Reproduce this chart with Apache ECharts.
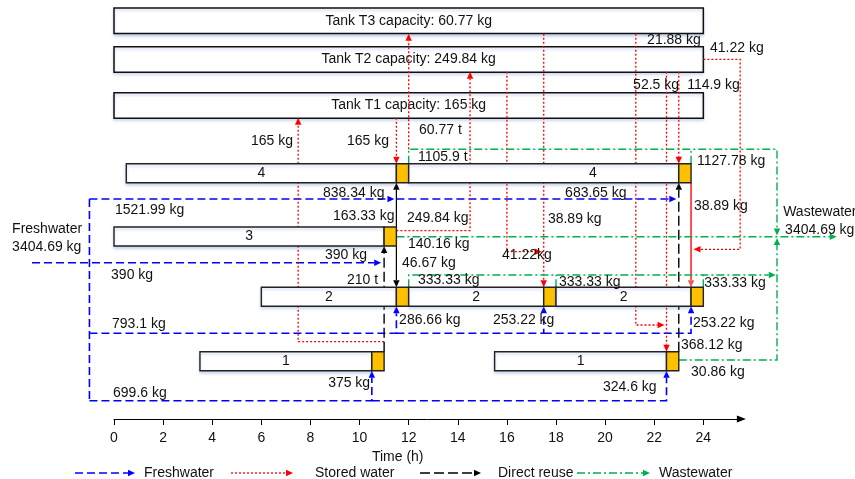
<!DOCTYPE html>
<html><head><meta charset="utf-8">
<script src="https://cdn.jsdelivr.net/npm/echarts@6/dist/echarts.min.js"></script>
<style>html,body{margin:0;padding:0;background:#fff}#c{width:855px;height:479px}</style>
</head><body><div id="c"></div>
<script>
// ================= DATA =================
const timeTicks = [0, 2, 4, 6, 8, 10, 12, 14, 16, 18, 20, 22, 24];
const horizon = [0, 24];
const tankNames = ['T3', 'T2', 'T1'];
const tankCapacity = ['60.77 kg', '249.84 kg', '165 kg'];
const opNames = ['4', '4', '3', '2', '2', '2', '1', '1'];
const opStart = [0.5, 12, 0, 6, 12, 18, 3.5, 15.5];
const opEnd   = [11.5, 23, 11, 11.5, 17.5, 23.5, 10.5, 22.5];
const washEnd = [12, 23.5, 11.5, 12, 18, 24, 11, 23];
const opLabelTime = [6, 19.5, 5.5, 8.75, 14.75, 20.75, 7, 19];
const freshTotal = '3404.69 kg';
const wasteTotal = '3404.69 kg';
const amountTexts = ['1521.99 kg', '838.34 kg', '683.65 kg', '390 kg', '390 kg', '793.1 kg', '286.66 kg',
  '253.22 kg', '253.22 kg', '699.6 kg', '375 kg', '324.6 kg', '165 kg', '165 kg', '60.77 t', '249.84 kg',
  '41.22kg', '38.89 kg', '21.88 kg', '52.5 kg', '114.9 kg', '41.22 kg', '38.89 kg', '163.33 kg', '46.67 kg',
  '210 t', '368.12 kg', '1105.9 t', '1127.78 kg', '140.16 kg', '333.33 kg', '333.33 kg', '333.33 kg', '30.86 kg'];
const legendNames = ['Freshwater', 'Stored water', 'Direct reuse', 'Wastewater'];

// flows: [style, path of [time, level], arrow at end]
const flows = [
  ['fw', [[-3.34, 'feed'], [10.88, 'feed']], true],
  ['fw', [[-1, 'fwTop'], [-1, 'fwBot']], false],
  ['fw', [[-1, 'fwTop'], [11.42, 'fwTop']], true],
  ['fw', [[11.5, 'fwTop'], [22.9, 'fwTop']], true],
  ['fw', [[-1, 'fwMid'], [11.5, 'fwMid'], [11.5, 'op2B']], true],
  ['fw', [[11.5, 'fwMid'], [17.5, 'fwMid'], [17.5, 'op2B']], true],
  ['fw', [[17.5, 'fwMid'], [23.5, 'fwMid'], [23.5, 'op2B']], true],
  ['fw', [[-1, 'fwBot'], [10.5, 'fwBot'], [10.5, 'op1B']], true],
  ['fw', [[10.5, 'fwBot'], [22.5, 'fwBot'], [22.5, 'op1B']], true],
  ['st', [[11, 'redOp1'], [7.5, 'redOp1'], [7.5, 't1B']], true],
  ['st', [[11.5, 't1B'], [11.5, 'op4T']], true],
  ['st', [[12, 'wwTop'], [12, 't3B']], true],
  ['st', [[11.5, 'redOp3'], [14.5, 'redOp3'], [14.5, 't2B']], true],
  ['st', [[16, 't2B'], [16, 'redT2a'], [17.42, 'redT2a']], true],
  ['st', [[17.5, 't3B'], [17.5, 'op2T']], true],
  ['st', [[21.25, 't3B'], [21.25, 'redT3'], [22.42, 'redT3']], true],
  ['st', [[22.5, 't2B'], [22.5, 'op1T']], true],
  ['st', [[23, 't2B'], [23, 'op4T']], true],
  ['st', [[24, 't2R'], [25.5, 't2R'], [25.5, 'redT2R'], [23.6, 'redT2R']], true],
  ['sts', [[23.5, 'op4B'], [23.5, 'op2T']], true],
  ['drs', [[11.5, 'op3T'], [11.5, 'op4B']], true],
  ['drs', [[11.5, 'op3B'], [11.5, 'op2T']], true],
  ['dr', [[11, 'op1T'], [11, 'op3B']], true],
  ['dr', [[23, 'op1T'], [23, 'op4B']], true],
  ['ww', [[12, 'op4T'], [12, 'wwTop'], [27, 'wwTop'], [27, 'wwIn1']], true],
  ['ww', [[23.5, 'op4T'], [23.5, 'wwTop']], false],
  ['ww', [[11.5, 'wwOut'], [29.43, 'wwOut']], true],
  ['ww', [[12, 'op2T'], [12, 'wwOp2'], [26.95, 'wwOp2']], true],
  ['ww', [[18, 'op2T'], [18, 'wwOp2']], false],
  ['ww', [[24, 'op2T'], [24, 'wwOp2']], false],
  ['ww', [[23, 'op1M'], [27, 'op1M'], [27, 'wwIn2']], true]
];

// ================= LAYOUT =================
const LV = {
  t3B: 33.7, t2B: 71.7, t1B: 117.7, t2R: 59.3,
  op4T: 163.7, op4B: 182.7, op3T: 227, op3B: 246, op2T: 287.3, op2B: 306.3, op1T: 351.7, op1B: 370.7, op1M: 360,
  fwTop: 199, feed: 262.7, fwMid: 333.3, fwBot: 400.7,
  wwTop: 149.3, wwOut: 236.7, wwOp2: 275, wwIn1: 235.5, wwIn2: 238,
  redOp1: 341.7, redOp3: 230.7, redT2a: 251.7, redT3: 325, redT2R: 249.3
};
const ROW_TOP = { '4': 163.7, '3': 227, '2': 287.3, '1': 351.7 };
const BAR_H = 19;
const TANK_TOP = [8, 46.7, 92.7];
const TANK_H = 25.5;
const amountPos = [[0.04, 210], [8.51, 193], [18.37, 193], [8.59, 255], [-0.12, 275], [-0.08, 324], [11.61, 320],
  [15.43, 320], [23.58, 322.7], [-0.04, 392.7], [8.72, 383.3], [19.91, 386.7], [5.58, 141], [9.49, 141], [12.42, 130],
  [11.93, 218.5], [15.8, 255], [17.67, 219.3], [21.71, 40], [21.14, 85], [23.34, 85], [24.27, 48.3], [23.62, 206],
  [8.92, 216], [11.73, 262.7], [9.49, 280], [23.09, 345], [12.38, 156.7], [23.74, 160.7], [11.97, 244],
  [12.38, 280], [18.12, 281.7], [24.04, 283], [23.5, 371.7]];
const sideText = [[freshTotal, -4.15, 246.7], ['Freshwater', -4.15, 229.3], ['Wastewater', 27.25, 211.7], [wasteTotal, 27.33, 230]];

const STY = {
  fw: { color: '#0000ff', width: 1.6, dash: [8, 4] },
  st: { color: '#ff0000', width: 1.3, dash: [2, 2] },
  sts: { color: '#ff4d4d', width: 2, dash: null },
  drs: { color: '#000000', width: 1.2, dash: null },
  dr: { color: '#000000', width: 1.4, dash: [10, 4] },
  ww: { color: '#00b050', width: 1.4, dash: [8, 3, 2, 3] }
};
const AL = 7, AW = 3.2;
const FAMILY = '"Liberation Sans", Arial, sans-serif';
const FONT = '14px ' + FAMILY;
const TXT = '#111111';
const SHADOW = { shadowBlur: 3, shadowOffsetY: 2, shadowColor: 'rgba(110,140,210,0.35)' };

function arrowLine(pts, st, arrow) {
  const children = [];
  const linePts = pts.slice();
  if (arrow) {
    const a = pts[pts.length - 2], b = pts[pts.length - 1];
    const dx = b[0] - a[0], dy = b[1] - a[1], len = Math.hypot(dx, dy) || 1;
    const ux = dx / len, uy = dy / len;
    const base = [b[0] - ux * AL, b[1] - uy * AL];
    linePts[linePts.length - 1] = base;
    children.push({ type: 'polygon', z2: 5,
      shape: { points: [b, [base[0] - uy * AW, base[1] + ux * AW], [base[0] + uy * AW, base[1] - ux * AW]] },
      style: { fill: st.color } });
  }
  children.unshift({ type: 'polyline', shape: { points: linePts },
    style: { stroke: st.color, lineWidth: st.width, lineDash: st.dash, fill: null } });
  return children;
}

const chart = echarts.init(document.getElementById('c'), null, { renderer: 'canvas' });

const legendGraphics = [];
const legendLayout = [[75, 135, 144], [231, 293, 315], [420, 481, 498], [577, 650, 659]];
const legendStyles = ['fw', 'st', 'dr', 'ww'];
legendNames.forEach((n, i) => {
  const [x0, x1, tx] = legendLayout[i];
  legendGraphics.push({ type: 'group', children: arrowLine([[x0, 473], [x1, 473]], STY[legendStyles[i]], true) });
  legendGraphics.push({ type: 'text', x: tx, y: 473, style: { text: n, font: FONT, fill: TXT, verticalAlign: 'middle' } });
});

const option = {
  animation: false,
  backgroundColor: '#ffffff',
  grid: { left: 114, top: 0, width: 627.4, height: 419, containLabel: false },
  xAxis: {
    type: 'value', min: 0, max: 25.55,
    name: 'Time (h)', nameLocation: 'middle', nameGap: 31,
    nameTextStyle: { fontFamily: FAMILY, fontSize: 14, color: TXT, padding: [0, 60, 0, 0] },
    axisLine: { onZero: false, symbol: ['none', 'triangle'], symbolSize: [7, 9], lineStyle: { color: '#000', width: 1 } },
    axisTick: { show: true, inside: false, length: 6, customValues: timeTicks, lineStyle: { color: '#000' } },
    axisLabel: { customValues: timeTicks, margin: 12, fontSize: 14, color: TXT, fontFamily: FAMILY },
    splitLine: { show: false }
  },
  yAxis: { type: 'value', inverse: true, min: 0, max: 419, show: false },
  graphic: legendGraphics,
  series: [
    { // tanks
      type: 'custom', clip: false, z: 2,
      data: tankNames.map((n, i) => [horizon[0], horizon[1], TANK_TOP[i]]),
      renderItem: (params, api) => {
        const i = params.dataIndex;
        const p0 = api.coord([api.value(0), api.value(2)]);
        const p1 = api.coord([api.value(1), api.value(2) + TANK_H]);
        return { type: 'group', children: [
          { type: 'rect', shape: { x: p0[0], y: p0[1], width: p1[0] - p0[0], height: p1[1] - p0[1] },
            style: Object.assign({ fill: '#fff', stroke: '#111', lineWidth: 1.5 }, SHADOW) },
          { type: 'text', x: (p0[0] + p1[0]) / 2, y: (p0[1] + p1[1]) / 2,
            style: { text: 'Tank ' + tankNames[i] + ' capacity: ' + tankCapacity[i], font: FONT, fill: TXT, align: 'center', verticalAlign: 'middle' } }
        ] };
      }
    },
    { // flows
      type: 'custom', clip: false, z: 3,
      data: flows.map((f, i) => [f[1][0][0], LV[f[1][0][1]], i]),
      renderItem: (params, api) => {
        const f = flows[params.dataIndex];
        const pts = f[1].map(p => api.coord([p[0], LV[p[1]]]));
        return { type: 'group', children: arrowLine(pts, STY[f[0]], f[2]) };
      }
    },
    { // operations
      type: 'custom', clip: false, z: 4,
      data: opNames.map((n, i) => [opStart[i], opEnd[i], washEnd[i], ROW_TOP[n], opLabelTime[i]]),
      renderItem: (params, api) => {
        const i = params.dataIndex;
        const top = api.value(3);
        const a = api.coord([api.value(0), top]);
        const b = api.coord([api.value(1), top + BAR_H]);
        const c = api.coord([api.value(2), top + BAR_H]);
        const l = api.coord([api.value(4), top + BAR_H / 2]);
        return { type: 'group', children: [
          { type: 'rect', shape: { x: a[0], y: a[1], width: b[0] - a[0], height: b[1] - a[1] },
            style: Object.assign({ fill: '#fff', stroke: '#222', lineWidth: 1.4 }, SHADOW) },
          { type: 'rect', shape: { x: b[0], y: a[1], width: c[0] - b[0], height: b[1] - a[1] },
            style: { fill: '#ffc000', stroke: '#222', lineWidth: 1.4 } },
          { type: 'text', x: l[0], y: l[1], style: { text: opNames[i], font: FONT, fill: TXT, align: 'center', verticalAlign: 'middle' } }
        ] };
      }
    },
    { // amount labels
      type: 'custom', clip: false, z: 6,
      data: amountTexts.map((t, i) => [amountPos[i][0], amountPos[i][1], i]),
      renderItem: (params, api) => {
        const p = api.coord([api.value(0), api.value(1)]);
        return { type: 'text', x: p[0], y: p[1],
          style: { text: amountTexts[params.dataIndex], font: FONT, fill: TXT, align: 'left', verticalAlign: 'middle' } };
      }
    },
    { // side labels
      type: 'custom', clip: false, z: 6,
      data: sideText.map(s => [s[1], s[2]]),
      renderItem: (params, api) => {
        const p = api.coord([api.value(0), api.value(1)]);
        return { type: 'text', x: p[0], y: p[1],
          style: { text: sideText[params.dataIndex][0], font: FONT, fill: TXT, align: 'left', verticalAlign: 'middle' } };
      }
    }
  ]
};
chart.setOption(option);
</script>
</body></html>
